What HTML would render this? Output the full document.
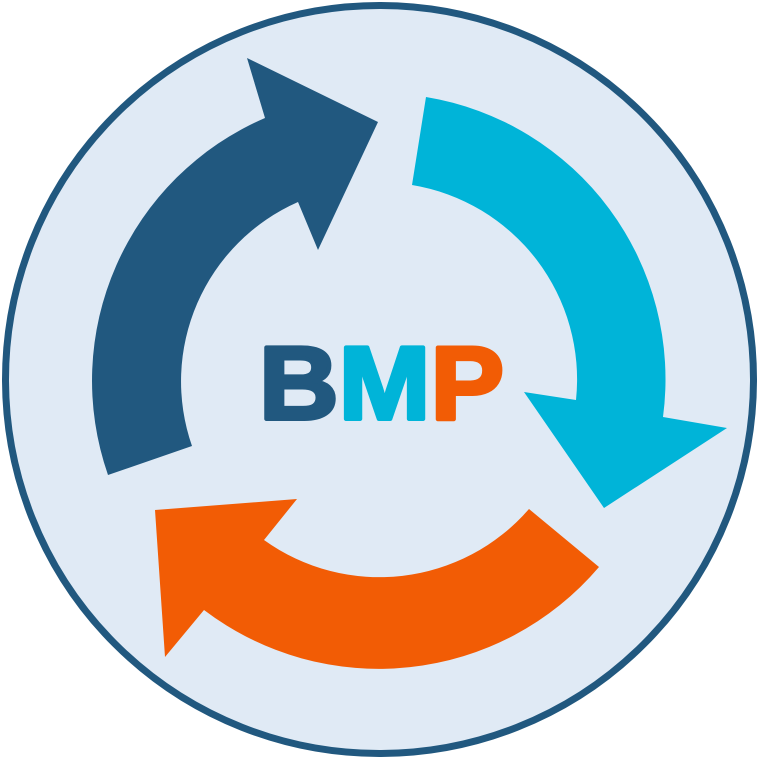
<!DOCTYPE html>
<html><head><style>html,body{margin:0;padding:0;background:#fff}svg{display:block}</style></head>
<body>
<svg width="759" height="759" viewBox="0 0 759 759" xmlns="http://www.w3.org/2000/svg">
<circle cx="379.5" cy="379.5" r="374" fill="#e0eaf5" stroke="#21587f" stroke-width="7"/>
<path d="M108,475 A286,286 0 0 1 265,118 L247,58 L378,122 L318,250 L298,202 A196,196 0 0 0 192,446 Z" fill="#21587f"/>
<path d="M426,97 A286,286 0 0 1 663,417 L727,428 L604,508 L524,392 L576,400 A197,197 0 0 0 412,185 Z" fill="#00b4d8"/>
<path d="M599,567 A289,289 0 0 1 204,610 L165,657 L155,510 L297,499 L264,540 A198,198 0 0 0 529,509 Z" fill="#f25c05"/>
<text x="259" y="419" font-family="Liberation Sans, sans-serif" font-weight="bold" font-size="104" textLength="245" lengthAdjust="spacingAndGlyphs" stroke-width="4" stroke-linejoin="round"><tspan fill="#21587f" stroke="#21587f">B</tspan><tspan fill="#00b4d8" stroke="#00b4d8">M</tspan><tspan fill="#f25c05" stroke="#f25c05">P</tspan></text>
</svg>
</body></html>
